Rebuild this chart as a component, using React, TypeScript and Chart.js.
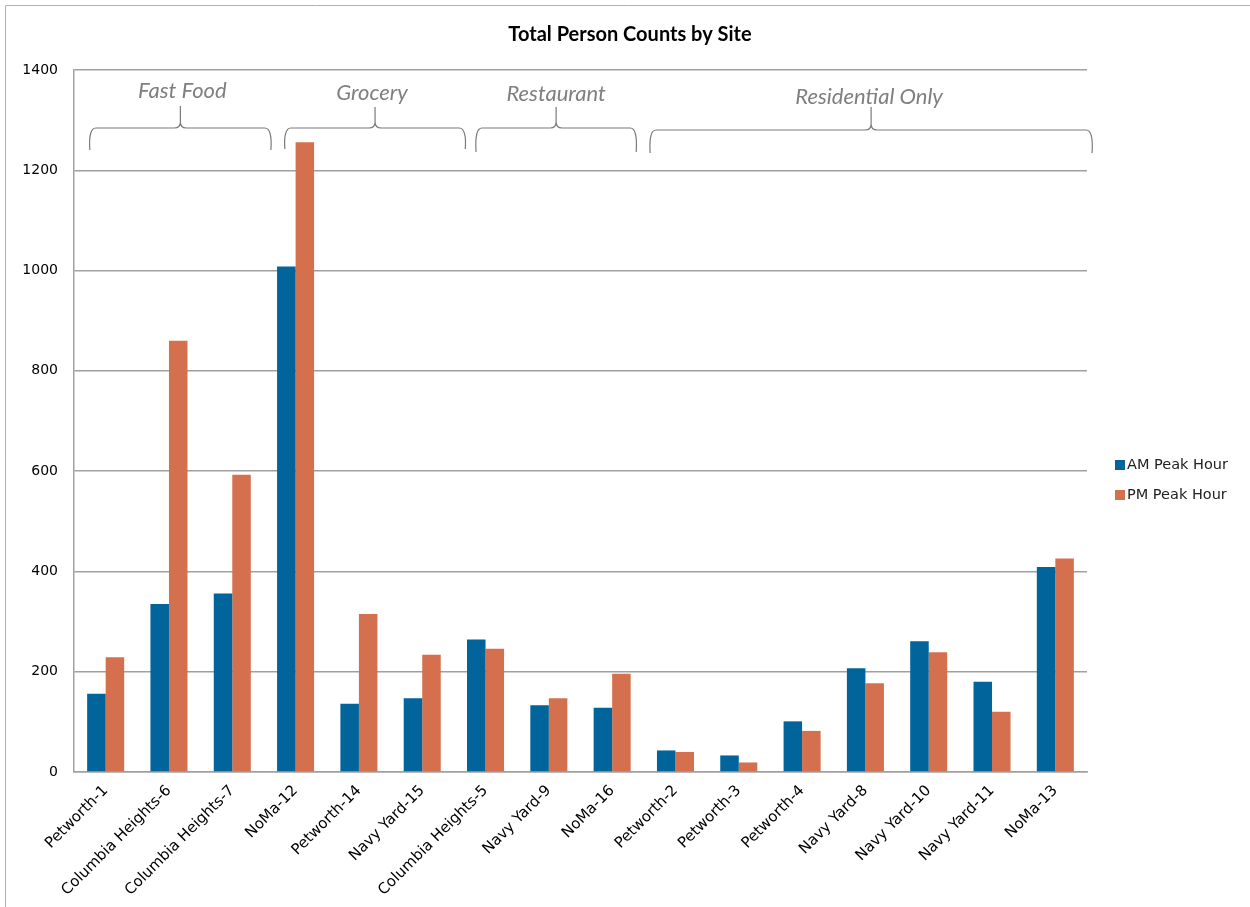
import React, { useEffect, useRef } from "react";
import { Chart, registerables } from "chart.js";

Chart.register(...registerables);

const categories = [
  "Petworth-1", "Columbia Heights-6", "Columbia Heights-7", "NoMa-12", "Petworth-14",
  "Navy Yard-15", "Columbia Heights-5", "Navy Yard-9", "NoMa-16", "Petworth-2",
  "Petworth-3", "Petworth-4", "Navy Yard-8", "Navy Yard-10", "Navy Yard-11", "NoMa-13",
];
const amPeak = [156, 335, 356, 1008, 136, 147, 264, 133, 128, 43, 33, 101, 207, 261, 180, 409];
const pmPeak = [229, 860, 593, 1256, 315, 234, 246, 147, 196, 40, 19, 82, 177, 239, 120, 426];
const seriesNames = ["AM Peak Hour", "PM Peak Hour"];
const yTicks = [0, 200, 400, 600, 800, 1000, 1200, 1400];

const groupLabels = ["Fast Food", "Grocery", "Restaurant", "Residential Only"];
const groupFirst = [0, 3, 6, 9];
const groupLast = [2, 5, 8, 15];

// layout for the hand-placed braces (category-width offsets and pixel rows)
const braceLayout = [
  { l: -0.25, r: 0.61, text: 91, peak: 106, h: 128, bottom: 150, tx: 2 },
  { l: -0.17, r: 0.68, text: 93, peak: 107, h: 128, bottom: 149, tx: -3 },
  { l: -0.15, r: 0.38, text: 94, peak: 107, h: 128, bottom: 152, tx: 0 },
  { l: -0.40, r: 0.58, text: 97, peak: 107, h: 130, bottom: 153, tx: -2 },
];

const AM_COLOR = "#01649b";
const PM_COLOR = "#d5704f";
const GRID = "#a0a0a0";

const decorPlugin = {
  id: "decor",
  beforeDraw(chart: any) {
    const ctx = chart.ctx;
    ctx.save();
    ctx.strokeStyle = "#b0b0b0";
    ctx.lineWidth = 1;
    ctx.beginPath();
    ctx.moveTo(5.5, 907);
    ctx.lineTo(5.5, 5.5);
    ctx.lineTo(1250, 5.5);
    ctx.stroke();
    ctx.restore();
  },
  afterDraw(chart: any) {
    const ctx = chart.ctx;
    const x = chart.scales.x;
    ctx.save();
    // title
    ctx.fillStyle = "#000";
    ctx.font = "bold 20px Lato";
    ctx.textAlign = "center";
    ctx.textBaseline = "middle";
    ctx.fillText("Total Person Counts by Site", 630, 35);

    // braces
    const catW = x.getPixelForValue(1) - x.getPixelForValue(0);
    groupLabels.forEach((label, i) => {
      const b = braceLayout[i];
      const x1 = x.getPixelForValue(groupFirst[i]) + b.l * catW;
      const x2 = x.getPixelForValue(groupLast[i]) + b.r * catW;
      const xc = (x1 + x2) / 2;
      const r = 6;
      ctx.strokeStyle = "#7a7a7a";
      ctx.lineWidth = 1.2;
      ctx.beginPath();
      ctx.moveTo(x1, b.bottom);
      ctx.bezierCurveTo(x1 - 1, b.h + 8, x1 + 1, b.h, x1 + r, b.h);
      ctx.lineTo(xc - r, b.h);
      ctx.quadraticCurveTo(xc, b.h, xc, b.h - r);
      ctx.lineTo(xc, b.peak);
      ctx.moveTo(xc, b.h - r);
      ctx.quadraticCurveTo(xc, b.h, xc + r, b.h);
      ctx.lineTo(x2 - r, b.h);
      ctx.bezierCurveTo(x2 - 1, b.h, x2 + 1, b.h + 8, x2, b.bottom);
      ctx.stroke();
      ctx.fillStyle = "#7f7f7f";
      ctx.font = "italic 22px Lato";
      ctx.textAlign = "center";
      ctx.textBaseline = "middle";
      ctx.fillText(label, xc + b.tx, b.text);
    });

    // legend
    const colors = [AM_COLOR, PM_COLOR];
    seriesNames.forEach((name, i) => {
      const cy = 465 + i * 30;
      ctx.fillStyle = colors[i];
      ctx.fillRect(1115, cy - 5, 10, 10);
      ctx.fillStyle = "#222";
      ctx.font = "14.5px 'DejaVu Sans'";
      ctx.textAlign = "left";
      ctx.textBaseline = "middle";
      ctx.fillText(name, 1127, cy + 0.5);
    });
    ctx.restore();
  },
};

export default function App() {
  const ref = useRef<HTMLCanvasElement>(null);
  useEffect(() => {
    if (!ref.current) return;
    const chart = new Chart(ref.current, {
      type: "bar",
      data: {
        labels: categories,
        datasets: [
          {
            label: seriesNames[0],
            data: amPeak,
            backgroundColor: AM_COLOR,
            categoryPercentage: 0.585,
            barPercentage: 1,
          },
          {
            label: seriesNames[1],
            data: pmPeak,
            backgroundColor: PM_COLOR,
            categoryPercentage: 0.585,
            barPercentage: 1,
          },
        ],
      },
      options: {
        responsive: false,
        animation: false,
        layout: { padding: { top: 70, left: 0, right: 1250 - 1087, bottom: 0 } },
        plugins: {
          legend: { display: false },
          title: { display: false },
          tooltip: { enabled: false },
        },
        scales: {
          x: {
            grid: { display: false, drawTicks: false },
            border: { display: true, color: GRID, width: 1.5 },
            ticks: {
              autoSkip: false,
              maxRotation: 45,
              minRotation: 45,
              padding: 10,
              color: "#000",
              font: { family: "'DejaVu Sans'", size: 15 },
            },
            afterFit: (s: any) => {
              s.height = 907 - 772;
            },
          },
          y: {
            min: 0,
            max: 1400,
            afterBuildTicks: (s: any) => {
              s.ticks = yTicks.map((v) => ({ value: v }));
            },
            grid: { color: GRID, lineWidth: 1.5, drawTicks: false },
            border: { display: true, color: GRID, width: 1.5 },
            ticks: {
              padding: 16,
              color: "#000",
              font: { family: "'DejaVu Sans'", size: 14 },
              callback: (v: any) => String(v),
            },
            afterFit: (s: any) => {
              s.width = 74;
            },
          },
        },
      },
      plugins: [decorPlugin],
    });
    return () => chart.destroy();
  }, []);
  return (
    <div style={{ position: "absolute", left: 0, top: 0, width: 1250, height: 907, background: "#fff" }}>
      <canvas ref={ref} width={1250} height={907} style={{ width: 1250, height: 907, display: "block" }} />
    </div>
  );
}
